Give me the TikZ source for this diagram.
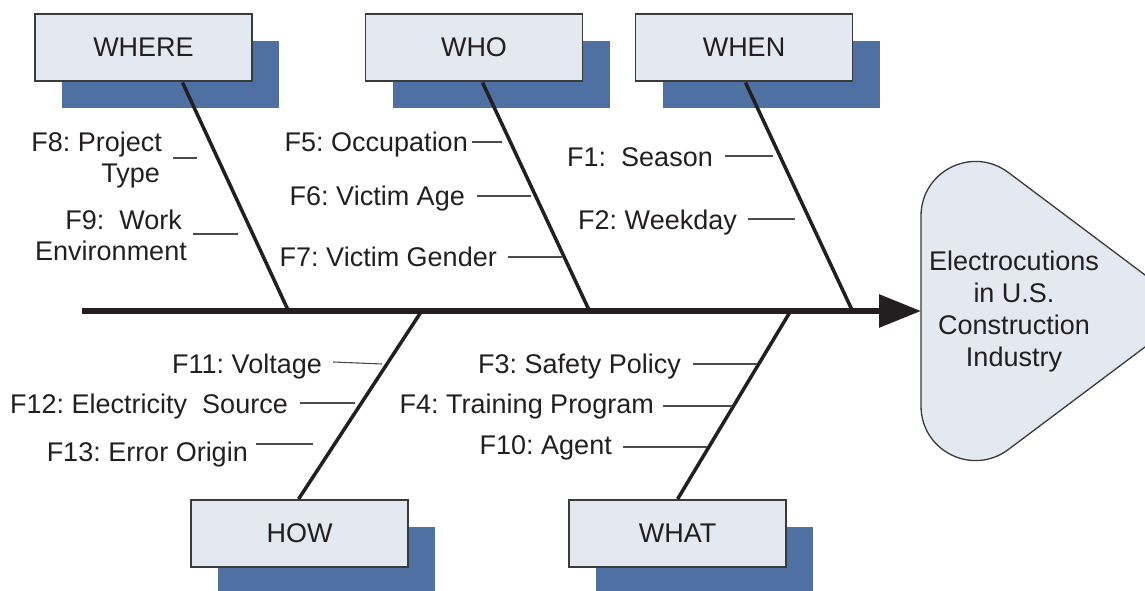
\documentclass[tikz,border=0pt]{standalone}
\usepackage{fontspec}
\setmainfont{Liberation Sans}
\frenchspacing
\usetikzlibrary{arrows.meta,shadows}
\definecolor{boxfill}{HTML}{E4E8F1}
\definecolor{shadowc}{HTML}{4F70A2}
\definecolor{inkc}{HTML}{231F20}
\definecolor{edgec}{HTML}{3A3A3A}
\begin{document}
\begin{tikzpicture}[x=1pt,y=-1pt, font=\fontsize{27}{32}\selectfont, text=inkc,
  cat/.style={draw=edgec, line width=1.3pt, fill=boxfill, minimum width=217pt, minimum height=67pt, inner sep=0pt,
    general shadow={fill=shadowc, draw=none, shadow xshift=27pt, shadow yshift=-27pt}},
  lab/.style={anchor=base east, inner sep=0pt},
  bone/.style={line width=3.5pt, draw=inkc},
  twig/.style={line width=1.1pt, draw=black!70},
  spine/.style={line width=6pt, draw=inkc, -{Triangle[length=42pt,width=32pt]}},
  headshape/.style={draw=edgec, line width=1.3pt, fill=boxfill}
]
\clip (0,0) rectangle (1145,591);
% head
\path[headshape] (921,216) .. controls (921,171) and (972.3,145.5) .. (1008.2,172.4)
  -- (1150.6,279.2) .. controls (1172,295.2) and (1172,326.8) .. (1150.6,342.8)
  -- (1008.2,449.6) .. controls (972.3,476.5) and (921,451) .. (921,406) -- cycle;
\node[align=center, inner sep=0pt] (head) at (1014,312) {Electrocutions\\in U.S.\\Construction\\Industry};
% category boxes
\node[cat] (where) at (143.5,47.5) {WHERE};
\node[cat] (who)   at (474,47.5)   {WHO};
\node[cat] (when)  at (744,47.5)   {WHEN};
\node[cat] (how)   at (299.5,533.5) {HOW};
\node[cat] (what)  at (677.5,533.5) {WHAT};
% bone end coordinates
\coordinate (wb) at (182.5,82.5);  \coordinate (j1) at (288,310);
\coordinate (ob) at (482.5,82.5);  \coordinate (j2) at (589,310);
\coordinate (nb) at (745.5,82.5);  \coordinate (j3) at (852,310);
\coordinate (hb) at (298.6,499);   \coordinate (j4) at (421,312);
\coordinate (ab) at (677.6,499);   \coordinate (j5) at (790,312);
\draw[bone] (wb) -- (j1);
\draw[bone] (ob) -- (j2);
\draw[bone] (nb) -- (j3);
\draw[bone] (hb) -- (j4);
\draw[bone] (ab) -- (j5);
% spine
\coordinate (tail) at (82,311);
\coordinate (headw) at (921,311);
\draw[spine] (tail) -- (headw);
% labels
\node[lab] (f8a) at (162,151) {F8: Project};
\node[lab] (f8b) at (160,182) {Type};
\node[lab] (f9a) at (182,229) {F9:\ \ Work};
\node[lab] (f9b) at (187,260) {Environment};
\node[lab] (f5) at (468,151) {F5: Occupation};
\node[lab] (f6) at (465,205) {F6: Victim Age};
\node[lab] (f7) at (497,266) {F7: Victim Gender};
\node[lab] (f1) at (713,166) {F1:\ \ Season};
\node[lab] (f2) at (737,229) {F2: Weekday};
\node[lab] (f11) at (322,373) {F11: Voltage};
\node[lab] (f12) at (288,413) {F12: Electricity\ \ Source};
\node[lab] (f13) at (248,461) {F13: Error Origin};
\node[lab] (f3) at (681,373) {F3: Safety Policy};
\node[lab] (f4) at (654,413) {F4: Training Program};
\node[lab] (f10) at (612,454) {F10: Agent};
% twigs
\foreach \n/\a/\b/\y in {t8/173/197/158, t9/193/238/234, t5/472/502/142, t6/477/531/196,
  t7/508/562/257, t1/725/773/156, t2/748/795/219, t12/300/355/403, t13/256/313/444,
  t3/693/757/364, t4/663/732/406, t10/623/707/447}{
  \coordinate (\n a) at (\a,\y);
  \coordinate (\n b) at (\b,\y);
  \draw[twig] (\n a) -- (\n b);
}
\coordinate (t11a) at (333,362);
\coordinate (t11b) at (382,364);
\draw[twig] (t11a) -- (t11b);
\end{tikzpicture}
\end{document}
